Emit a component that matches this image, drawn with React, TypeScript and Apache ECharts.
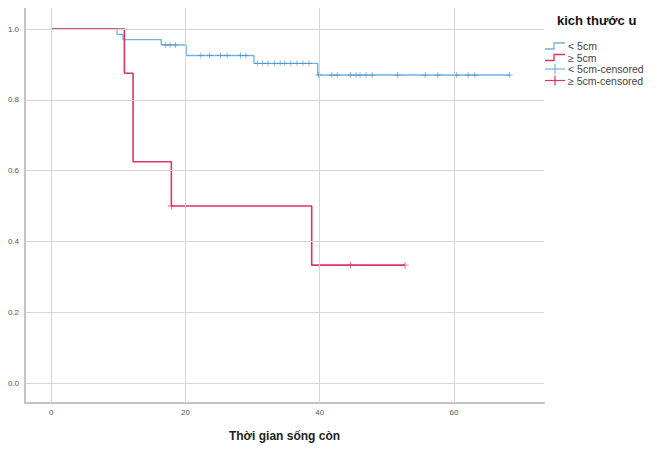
import React, { useEffect, useRef } from "react";
import * as echarts from "echarts";

// Kaplan-Meier step points [time, survival] (drop happens at the time)
const smallSteps: number[][] = [
  [0, 1.0], [9.8, 0.985], [10.7, 0.97], [16.4, 0.955], [20.1, 0.925],
  [30.2, 0.903], [39.7, 0.87], [68.3, 0.87],
];
const largeSteps: number[][] = [
  [0, 1.0], [10.9, 0.875], [12.2, 0.625], [17.9, 0.5], [38.8, 0.333], [52.7, 0.333],
];
const smallCensored: number[][] = [
  [17.0, 0.955], [17.7, 0.955], [18.5, 0.955],
  [22.3, 0.925], [23.6, 0.925], [25.2, 0.925], [26.2, 0.925], [28.2, 0.925], [29.0, 0.925],
  [30.7, 0.903], [31.5, 0.903], [32.3, 0.903], [33.3, 0.903], [34.1, 0.903], [34.8, 0.903],
  [35.7, 0.903], [36.6, 0.903], [37.5, 0.903], [38.4, 0.903],
  [39.8, 0.87], [41.8, 0.87], [42.6, 0.87], [44.6, 0.87], [45.4, 0.87], [46.0, 0.87],
  [46.9, 0.87], [47.8, 0.87], [51.6, 0.87], [55.7, 0.87], [57.6, 0.87], [60.4, 0.87],
  [62.1, 0.87], [63.1, 0.87], [68.3, 0.87],
];
const largeCensored: number[][] = [[17.9, 0.5], [44.6, 0.333], [52.7, 0.333]];
const xTicks = [0, 20, 40, 60];
const yTicks = [0, 0.2, 0.4, 0.6, 0.8, 1.0];
const legendTitle = "kich thước u";
const legendLabels = ["< 5cm", "≥ 5cm", "< 5cm-censored", "≥ 5cm-censored"];

const BLUE = "#72b2e0";
const BLUE_DARK = "#4a88c4";
const RED = "#e0335f";
const GRID = "#d6d6d6";
const PLUS = "path://M4.4,0h1.2v10h-1.2zM0,4.4h10v1.2h-10z";
const FONT = "'Liberation Sans', Arial, sans-serif";

export default function App() {
  const ref = useRef<HTMLDivElement>(null);
  useEffect(() => {
    if (!ref.current) return;
    const chart = echarts.init(ref.current, null, { renderer: "svg" });
    const lx = 545, ly = [46, 57.5, 69, 80.5];
    const stepIcon = (y: number, color: string) => ({
      type: "polyline",
      shape: { points: [[lx, y + 3], [lx + 9, y + 3], [lx + 9, y - 3], [lx + 20, y - 3]] },
      style: { stroke: color, lineWidth: 1.3, fill: null },
    });
    const plusIcon = (y: number, color: string) => ({
      type: "group",
      children: [
        { type: "line", shape: { x1: lx, y1: y, x2: lx + 20, y2: y }, style: { stroke: color, lineWidth: 1.2 } },
        { type: "line", shape: { x1: lx + 10, y1: y - 5, x2: lx + 10, y2: y + 5 }, style: { stroke: color, lineWidth: 1.2 } },
      ],
    });
    const graphics: any[] = [
      { type: "text", left: 557, top: 14, style: { text: legendTitle, font: `bold 13px ${FONT}`, fill: "#111" } },
      stepIcon(ly[0], BLUE), stepIcon(ly[1], RED), plusIcon(ly[2], BLUE), plusIcon(ly[3], RED),
    ];
    legendLabels.forEach((t, i) => {
      graphics.push({
        type: "text", x: lx + 23, y: ly[i], style: { text: t, font: `10.5px ${FONT}`, fill: "#444", verticalAlign: "middle" },
      });
    });
    chart.setOption({
      animation: false,
      backgroundColor: "#ffffff",
      grid: { left: 25, right: 128, top: 0, bottom: 48 },
      xAxis: {
        type: "value", min: -3.9, max: 73.4,
        name: "Thời gian sống còn", nameLocation: "middle", nameGap: 27,
        nameTextStyle: { fontSize: 12, fontWeight: "bold", color: "#222", fontFamily: FONT },
        axisLine: { show: true, onZero: false, lineStyle: { color: "#c4c4c4", width: 2 } },
        axisTick: { show: false },
        splitLine: { show: false },
        axisLabel: { customValues: xTicks, fontSize: 8, color: "#555", margin: 5, fontFamily: FONT },
      },
      yAxis: {
        type: "value", min: -0.0565, max: 1.082,
        axisLine: { show: true, onZero: false, lineStyle: { color: "#c4c4c4", width: 2 } },
        axisTick: { show: false },
        splitLine: { show: false },
        axisLabel: {
          customValues: yTicks, fontSize: 8, color: "#555", margin: 6, fontFamily: FONT,
          formatter: (v: number) => v.toFixed(1),
        },
      },
      graphic: graphics,
      series: [
        {
          type: "line", data: [], silent: true, z: 1,
          markLine: {
            silent: true, symbol: "none", label: { show: false },
            lineStyle: { color: GRID, width: 1, type: "solid" },
            data: [
              ...xTicks.map((v) => ({ xAxis: v })),
              ...yTicks.map((v) => ({ yAxis: v })),
            ],
          },
        },
        {
          name: legendLabels[0], type: "line", step: "end", data: smallSteps, showSymbol: false,
          lineStyle: { color: BLUE, width: 1.4 }, itemStyle: { color: BLUE }, z: 3,
        },
        {
          name: legendLabels[1], type: "line", step: "end", data: largeSteps, showSymbol: false,
          lineStyle: { color: RED, width: 1.6 }, itemStyle: { color: RED }, z: 4,
        },
        {
          name: legendLabels[2], type: "scatter", data: smallCensored, symbol: PLUS, symbolSize: 6,
          itemStyle: { color: BLUE_DARK }, z: 5,
        },
        {
          name: legendLabels[3], type: "scatter", data: largeCensored, symbol: PLUS, symbolSize: 7,
          itemStyle: { color: RED }, z: 6,
        },
      ],
    });
    return () => chart.dispose();
  }, []);
  return <div ref={ref} style={{ width: 672, height: 451, margin: -8 }} />;
}
